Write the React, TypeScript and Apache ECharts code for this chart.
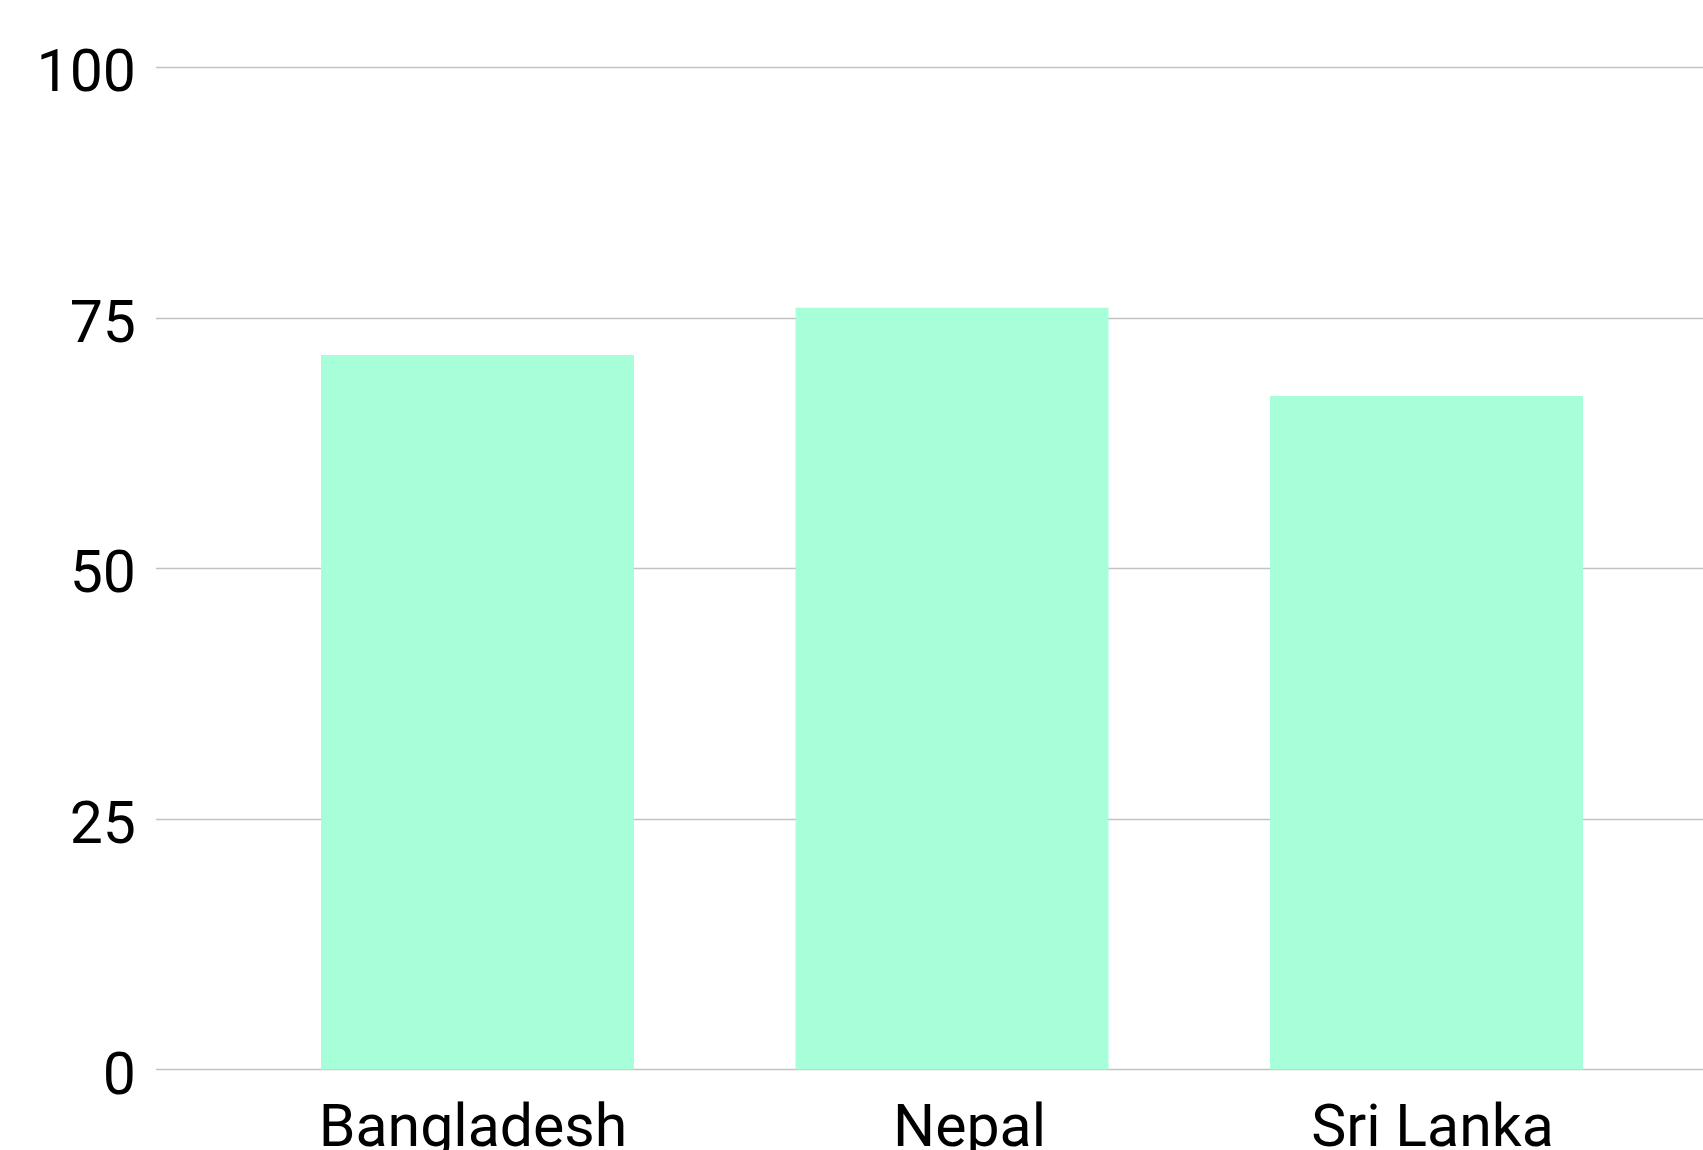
import React, { useEffect, useRef } from "react";
import * as echarts from "echarts";

const categories = ["Bangladesh", "Nepal", "Sri Lanka"];
const values = [71.3, 76.0, 67.2];
const yMin = 0;
const yMax = 100;
const yInterval = 25;

export default function App() {
  const ref = useRef<HTMLDivElement>(null);
  useEffect(() => {
    document.body.style.margin = "0";
    const chart = echarts.init(ref.current!, null, { renderer: "svg" });
    const font = "Roboto";
    const labelPads = [
      [0, 9, 0, 0],
      [0, 0, 0, 35],
      [0, 0, 0, 12],
    ];
    const rich: Record<string, any> = {};
    labelPads.forEach((p, i) => {
      rich["c" + i] = {
        padding: p,
        fontFamily: font,
        fontSize: 59,
        color: "#000000",
      };
    });
    const positions = categories.map((_, i) => i + 1);
    chart.setOption({
      animation: false,
      backgroundColor: "#ffffff",
      grid: {
        left: 156,
        right: 0,
        top: 67.3,
        bottom: 80.5,
        containLabel: false,
        outerBoundsMode: "none",
      },
      xAxis: {
        type: "value",
        min: 0.3224,
        max: 3.5827,
        splitLine: { show: false },
        axisLine: { show: false },
        axisTick: { show: false },
        axisLabel: {
          customValues: positions,
          margin: 26,
          fontFamily: font,
          fontSize: 59,
          color: "#000000",
          formatter: (v: number) => {
            const i = Math.round(v) - 1;
            return "{c" + i + "|" + categories[i] + "}";
          },
          rich,
        },
      },
      yAxis: {
        type: "value",
        min: yMin,
        max: yMax,
        interval: yInterval,
        axisLine: { show: false },
        axisTick: { show: false },
        axisLabel: {
          color: "#000000",
          fontFamily: font,
          fontSize: 59,
          margin: 20,
          formatter: (v: number) => "{y|" + v + "}",
          rich: {
            y: {
              padding: [7, 0, 0, 0],
              fontFamily: font,
              fontSize: 59,
              color: "#000000",
            },
          },
        },
        splitLine: { lineStyle: { color: "#c2c2c2", width: 1.3 } },
      },
      series: [
        {
          type: "bar",
          data: values.map((v, i) => [positions[i], v]),
          barWidth: 313,
          itemStyle: { color: "#a6ffd9" },
        },
      ],
    });
    return () => chart.dispose();
  }, []);
  return (
    <div
      ref={ref}
      style={{ position: "absolute", left: 0, top: 0, width: 1703, height: 1150 }}
    />
  );
}
